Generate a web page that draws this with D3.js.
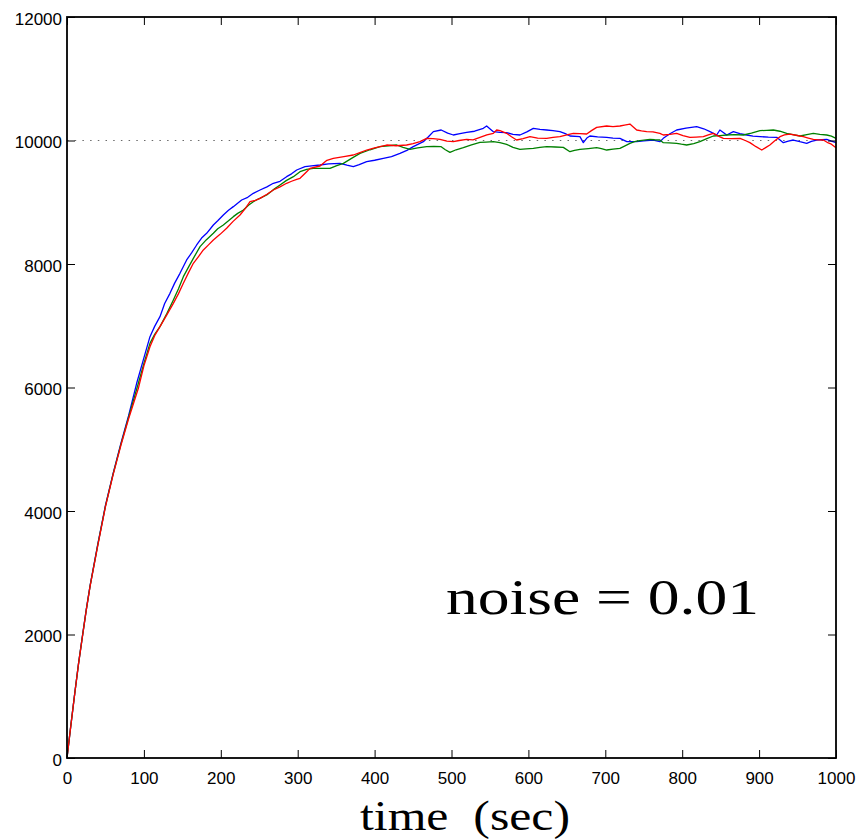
<!DOCTYPE html>
<html>
<head>
<meta charset="utf-8">
<script src="https://cdn.jsdelivr.net/npm/d3@7"></script>
<style>
  html, body { margin: 0; padding: 0; background: #fff; }
  svg { display: block; }
</style>
</head>
<body>
<svg id="chart" width="857" height="839"></svg>
<script>
// ---------- data ----------
const xTickValues = [0, 100, 200, 300, 400, 500, 600, 700, 800, 900, 1000];
const yTickValues = [0, 2000, 4000, 6000, 8000, 10000, 12000];
const targetLevel = 10000;
const xLabel = "time  (sec)";
const noteText = "noise = 0.01";

// [time (sec), value]
const blueSeries = [
  [0,0],[5,530],[10,1040],[15,1530],[20,1970],[25,2400],[30,2790],[40,3460],[50,4090],[60,4610],
  [70,5090],[80,5540],[90.6,6068],[100,6480],[107.9,6823],[114,6990],[120.9,7147],[127,7360],
  [133.9,7525],[140,7690],[146.9,7849],[155.6,8065],[162,8180],[168.6,8308],[175,8420],[181.6,8497],
  [190.3,8632],[196,8700],[203.3,8794],[210,8870],[216.3,8929],[227.1,9036],[235,9080],[242.3,9145],
  [251,9198],[260,9250],[268.3,9307],[277,9340],[285.6,9414],[292,9460],[298.7,9522],[309.5,9576],
  [318,9590],[329,9603],[340,9620],[355,9630],[364,9600],[372.3,9576],[380,9610],[389.7,9657],
  [400,9680],[411.4,9711],[422,9740],[433,9792],[442,9840],[450.3,9900],[463.4,9981],[470,10060],
  [476.4,10143],[486.6,10170],[495,10120],[502.4,10089],[511,10110],[519.7,10132],[530,10150],
  [541.4,10197],[545.7,10235],[554.4,10143],[563,10130],[571.7,10127],[580,10100],[589,10089],
  [598,10140],[606.4,10197],[615,10180],[623.8,10170],[632,10160],[641,10143],[648,10110],
  [654,10073],[667,10062],[671.4,9965],[676,10040],[680,10073],[690,10060],[701.8,10051],
  [710,10040],[719,10035],[728,9981],[740.8,9981],[750,9995],[762.4,10008],[771,9981],
  [775.4,10035],[784,10110],[792.8,10170],[805,10200],[818.8,10224],[828,10190],[836.2,10143],
  [844.8,10089],[849,10170],[857.9,10089],[866.5,10143],[875,10110],[883.9,10089],[892,10070],
  [901.2,10062],[912,10055],[922.9,10051],[931.5,9965],[938,9990],[944.5,10008],[953,9980],
  [961.9,9954],[968,9985],[975,10008],[988,10019],[994,9990],[1000,9965]
];

const greenSeries = [
  [0,0],[5,528],[10,1038],[15,1528],[20,1965],[25,2395],[30,2785],[40,3450],[50,4080],[60,4600],
  [70,5075],[80,5515],[92.8,6068],[100,6390],[107.9,6715],[114,6860],[120.9,6985],[130,7200],
  [138.3,7417],[145,7600],[151.3,7795],[158,7950],[164.3,8092],[173,8281],[181,8390],[190.3,8497],
  [196,8570],[203.3,8632],[210,8700],[216.3,8767],[222,8820],[229.4,8874],[236,8950],[242.3,9009],
  [250,9060],[259.7,9117],[268,9200],[277,9279],[285,9350],[294.4,9414],[303,9495],[311.7,9533],
  [320.4,9549],[329,9549],[342,9549],[350,9590],[359.4,9630],[370,9710],[381,9792],[394,9850],
  [407,9900],[418,9915],[428.7,9927],[437,9890],[446,9857],[456,9880],[467.7,9900],[477,9905],
  [486.6,9900],[492,9850],[498,9808],[506,9850],[515.4,9884],[526,9930],[537,9970],[545,9975],
  [554.4,9981],[563,9965],[571.7,9938],[580,9890],[589,9857],[597,9865],[606.4,9873],[615,9890],
  [623.8,9900],[635,9895],[645.4,9889],[654,9819],[660,9840],[667,9857],[678,9870],[688.8,9884],
  [695,9870],[701.8,9846],[710,9860],[719,9873],[725,9910],[732,9954],[738,9980],[745,9997],
  [758,10019],[764,10012],[771,10008],[775.4,9965],[783,9960],[792.8,9954],[799,9940],[805.8,9927],
  [815,9950],[823,9981],[832,10030],[840.5,10073],[849,10080],[857.9,10089],[868,10095],
  [879.5,10089],[890,10120],[901.2,10159],[910,10165],[918.5,10170],[927,10150],[935.9,10116],
  [944,10095],[953.2,10073],[962,10095],[970.5,10116],[979,10100],[988,10089],[994,10070],[1000,10035]
];

const redSeries = [
  [0,0],[5,525],[10,1035],[15,1525],[20,1960],[25,2390],[30,2780],[40,3440],[50,4070],[60,4590],
  [70,5060],[80,5490],[92.8,5987],[100,6350],[107.9,6661],[114,6840],[120.9,6985],[130,7180],
  [138.3,7363],[145,7520],[151.3,7687],[158,7860],[164.3,8011],[171,8120],[177.3,8227],[184,8310],
  [190.3,8389],[199,8480],[207.6,8578],[216,8690],[225,8794],[232,8900],[238,9009],[245,9030],
  [251,9063],[260,9130],[268.3,9198],[277,9250],[285.6,9307],[292,9340],[298.7,9371],[303,9388],
  [311.7,9495],[316,9549],[329,9587],[338,9680],[346.3,9711],[360,9740],[372.3,9765],[380,9800],
  [389.7,9846],[400,9880],[415.7,9927],[428,9915],[441.7,9927],[450,9950],[459,9981],[467.7,10035],
  [476,10030],[485,10019],[494,9990],[502.4,9981],[510,10000],[519.7,10019],[528,10010],[537,10050],
  [546,10090],[554.4,10116],[558.7,10170],[563,10159],[571.7,10116],[578,10060],[584.7,10008],
  [593,10030],[602,10062],[612,10040],[623.8,10035],[632,10050],[641,10062],[650,10090],
  [658.4,10116],[667,10110],[675.8,10105],[682,10160],[688.8,10213],[701.8,10235],[710,10225],
  [719,10235],[725,10250],[732,10267],[740.8,10170],[747,10155],[753.8,10143],[762,10140],
  [771,10116],[775.4,10089],[784,10100],[792.8,10116],[801,10080],[810,10051],[818,10055],
  [827.5,10062],[834,10090],[840.5,10116],[847,10070],[853.6,10035],[864,10030],[875.2,10035],
  [882,10000],[888,9965],[896,9900],[903.4,9846],[908,9880],[914,9927],[920,9990],[927.2,10062],
  [933,10090],[940,10105],[948,10085],[957.5,10062],[964,10040],[970.5,10019],[977,10010],
  [983.5,10008],[990,9960],[994,9940],[1000,9884]
];

const seriesList = [
  { name: "blue", color: "#0000ff", data: blueSeries },
  { name: "green", color: "#008000", data: greenSeries },
  { name: "red", color: "#ff0000", data: redSeries }
];

// ---------- layout ----------
const svg = d3.select("#chart");
const plotLeft = 67, plotRight = 836, plotTop = 17, plotBottom = 758;

const x = d3.scaleLinear().domain([0, 1000]).range([plotLeft, plotRight]);
const y = d3.scaleLinear().domain([0, 12000]).range([plotBottom, plotTop]);

const tickFont = "'Liberation Sans', Arial, Helvetica, sans-serif";

// target dotted line
svg.append("line")
  .attr("x1", x(0)).attr("x2", x(1000))
  .attr("y1", y(targetLevel)).attr("y2", y(targetLevel))
  .attr("stroke", "#6a6a6a")
  .attr("stroke-width", 1)
  .attr("stroke-dasharray", "1.5,6.2");

// series
const line = d3.line().x(d => x(d[0])).y(d => y(d[1]));
svg.append("g").selectAll("path")
  .data(seriesList)
  .join("path")
  .attr("d", d => line(d.data))
  .attr("fill", "none")
  .attr("stroke", d => d.color)
  .attr("stroke-width", 1.3)
  .attr("stroke-linejoin", "round");

// axes
const gx = svg.append("g").attr("transform", `translate(0,${plotBottom})`)
  .call(d3.axisBottom(x).tickValues(xTickValues).tickFormat(d3.format("d"))
    .tickSizeInner(-8).tickSizeOuter(0).tickPadding(14));
const gxTop = svg.append("g").attr("transform", `translate(0,${plotTop})`)
  .call(d3.axisTop(x).tickValues(xTickValues).tickFormat("")
    .tickSizeInner(-8).tickSizeOuter(0));
const gy = svg.append("g").attr("transform", `translate(${plotLeft},0)`)
  .call(d3.axisLeft(y).tickValues(yTickValues).tickFormat(d3.format("d"))
    .tickSizeInner(-8).tickSizeOuter(0).tickPadding(5));
const gyRight = svg.append("g").attr("transform", `translate(${plotRight},0)`)
  .call(d3.axisRight(y).tickValues(yTickValues).tickFormat("")
    .tickSizeInner(-8).tickSizeOuter(0));

[gx, gxTop, gy, gyRight].forEach(g => {
  g.select(".domain").remove();
  g.selectAll(".tick line").attr("stroke", "#000").attr("stroke-width", 1);
  g.selectAll(".tick text")
    .attr("fill", "#000")
    .style("font-family", tickFont)
    .style("font-size", "17px");
});
gy.selectAll(".tick text").attr("dy", "0.44em");

// frame
svg.append("rect")
  .attr("x", plotLeft).attr("y", plotTop)
  .attr("width", plotRight - plotLeft).attr("height", plotBottom - plotTop)
  .attr("fill", "none")
  .attr("stroke", "#000")
  .attr("stroke-width", 1.8);

// x label
svg.append("text")
  .attr("x", 360).attr("y", 830)
  .attr("textLength", 210)
  .attr("lengthAdjust", "spacingAndGlyphs")
  .style("white-space", "pre")
  .style("font-family", "'Liberation Serif', 'Times New Roman', serif")
  .style("font-size", "42px")
  .attr("fill", "#000")
  .text(xLabel);

// annotation
svg.append("text")
  .attr("x", 446).attr("y", 614)
  .attr("textLength", 313)
  .attr("lengthAdjust", "spacingAndGlyphs")
  .style("font-family", "'Liberation Serif', 'Times New Roman', serif")
  .style("font-size", "50px")
  .attr("fill", "#000")
  .text(noteText);
</script>
</body>
</html>
